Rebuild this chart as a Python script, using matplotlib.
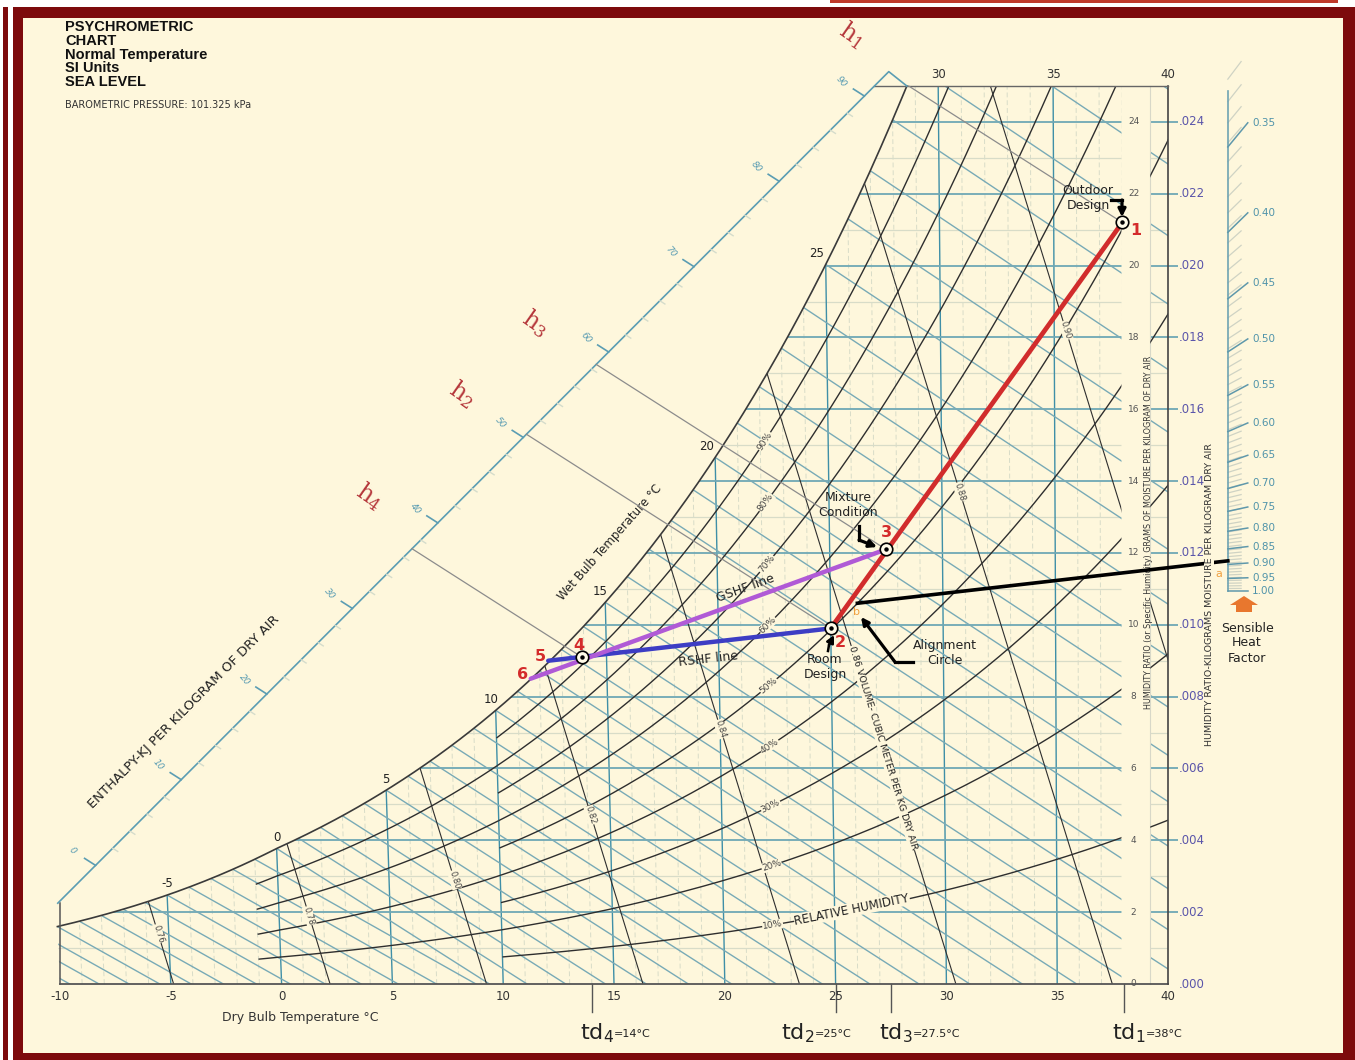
#!/usr/bin/env python3
"""Psychrometric chart (SI, sea level) with a cooling process drawn on it."""
import numpy as np
import matplotlib
matplotlib.use('Agg')
import matplotlib.pyplot as plt
from matplotlib.path import Path
from matplotlib.patches import PathPatch, Polygon, Rectangle

plt.rcParams['mathtext.default'] = 'regular'

# ---------- data ----------
P_ATM = 101.325
state_ids = ['1', '2', '3', '4', '5', '6']
state_tdb = [38.0, 25.0, 27.5, 13.9, 12.4, 11.6]
state_w = [0.0212, 0.0099, 0.0121, 0.0091, 0.0090, 0.0085]
h_marked = ['2', '3', '4']

rh_levels = [10, 20, 30, 40, 50, 60, 70, 80, 90]
rh_cold_levels = [20, 40, 60, 80]
vol_levels = [0.76, 0.78, 0.80, 0.82, 0.84, 0.86, 0.88, 0.90]
vol_label_w = [0.0014, 0.0019, 0.0029, 0.0047, 0.0071, 0.0094, 0.0137, 0.0182]
wb_sat_labels = [-5, 0, 5, 10, 15, 20, 25]
wb_lines = list(range(-14, 33))
h_ticks = [0, 10, 20, 30, 40, 50, 60, 70, 80, 90]
tdb_ticks = [-10, -5, 0, 5, 10, 15, 20, 25, 30, 35, 40]
tdb_top_ticks = [30, 35, 40]
w_ticks = [0.000, 0.002, 0.004, 0.006, 0.008, 0.010, 0.012,
           0.014, 0.016, 0.018, 0.020, 0.022, 0.024]
shf_ticks = [0.35, 0.40, 0.45, 0.50, 0.55, 0.60, 0.65,
             0.70, 0.75, 0.80, 0.85, 0.90, 0.95, 1.00]
td_names = ['4', '2', '3', '1']
td_values = [14, 25, 27.5, 38]

# ---------- layout ----------
W_PX, H_PX = 1355, 1060
X0, SX, Y0, SY = 60.0, 22.16, 984.0, 35920.0    # px of -10 C, px/C, px of W=0, px per unit W
T_END, T_STRIP, W_TOP = 37.9, 39.2, 0.025
LEAN = 1.48                                     # dry-bulb lines lean left as W grows
ENTH_A, ENTH_B = (-10.1, 0.00225), (27.4, 0.0254)
ALIGN = (26.2, 0.0106)
SHF_X, SHF_PIVOT = 42.7, (25.25, 0.01094)

TEAL = '#3f8fa7'
DIAG = '#78aab6'
LIGHT = '#d8dcc8'
INK = '#2e2e2e'
CREAM = '#fef7dc'
DARKRED = '#7d0a0c'
NARROW = ['Liberation Sans Narrow', 'DejaVu Sans']


# ---------- psychrometrics ----------
def pws(t):
    t = np.asarray(t, float)
    water = 0.61094 * np.exp(17.625 * t / (t + 243.04))
    ice = 0.61115 * np.exp(22.452 * t / (272.55 + t))
    return np.where(t >= 0, water, ice)


def w_rh(t, rh):
    p = rh * pws(t)
    return 0.621945 * p / (P_ATM - p)


def w_wb(t, twb):
    ws = w_rh(twb, 1.0)
    if twb >= 0:
        return ((2501 - 2.326 * twb) * ws - 1.006 * (t - twb)) / (2501 + 1.86 * t - 4.186 * twb)
    return ((2830 - 0.24 * twb) * ws - 1.006 * (t - twb)) / (2830 + 1.86 * t - 2.1 * twb)


def t_h(h, w):
    return (h - 2501 * w) / (1.006 + 1.86 * w)


def t_vol(v, w):
    return v * P_ATM / (0.287042 * (1 + 1.607858 * w)) - 273.15


def enthalpy(t, w):
    return 1.006 * t + w * (2501 + 1.86 * t)


def skew(t, w):
    return np.asarray(t) - LEAN * (40.0 - np.asarray(t)) * np.asarray(w)


def px2d(px, py):
    return (px - X0) / SX - 10.0, (Y0 - py) / SY


def ang(x1, y1, x2, y2):
    return np.degrees(np.arctan2((y2 - y1) * SY, (x2 - x1) * SX))


def enth_scale_w(tp):
    k = (ENTH_B[1] - ENTH_A[1]) / (ENTH_B[0] - ENTH_A[0])
    return ENTH_A[1] + k * (tp - ENTH_A[0])


def enth_on_scale(h):
    ws = np.linspace(0, 0.035, 20001)
    tp = skew(t_h(h, ws), ws)
    i = np.argmin(np.abs(ws - enth_scale_w(tp)))
    return tp[i], ws[i]


def shf_w(s):
    return SHF_PIVOT[1] + (SHF_X - SHF_PIVOT[0]) * 1.006 * (1 - s) / (2501 * s)


# ---------- figure ----------
fig = plt.figure(figsize=(W_PX / 100, H_PX / 100), dpi=100)
fig.patch.set_facecolor('white')
ax = fig.add_axes([0, 0, 1, 1])
ax.set_xlim(px2d(0, 0)[0], px2d(W_PX, 0)[0])
ax.set_ylim(px2d(0, H_PX)[1], px2d(0, 0)[1])
ax.axis('off')


def frect(x, y, w, h, **kw):
    fig.add_artist(Rectangle((x / W_PX, 1 - (y + h) / H_PX), w / W_PX, h / H_PX,
                             transform=fig.transFigure, lw=0, **kw))


frect(13, 7, W_PX - 13, H_PX - 7, color=DARKRED, zorder=-5)
frect(3, 7, 5, H_PX - 7, color=DARKRED, zorder=-5)
frect(23, 18, 1320, 1035, color=CREAM, zorder=-4)
frect(830, 0, 508, 3, color='#c0392b', zorder=-5)


def tx(px, py, s, **kw):
    return ax.text(*px2d(px, py), s, **kw)


# ---------- ruled area (clip path) ----------
tt = np.linspace(-10, 35, 4000)
t_top = np.interp(W_TOP, w_rh(tt, 1.0), tt)
ts = np.linspace(-10, t_top, 300)
wsat = w_rh(ts, 1.0)
sat_x = skew(ts, wsat)
region = [(-10, 0), (T_END, 0), (T_END, W_TOP)] + list(zip(sat_x[::-1], wsat[::-1]))
strip = [(T_STRIP, 0), (40, 0), (40, W_TOP), (T_STRIP, W_TOP)]


def codes(n):
    return [Path.MOVETO] + [Path.LINETO] * (n - 1) + [Path.CLOSEPOLY]


clip = PathPatch(Path(region + [region[0]] + strip + [strip[0]],
                      codes(len(region)) + codes(len(strip))),
                 transform=ax.transData, fc='none', ec='none')
ax.add_patch(clip)


def line(x, y, clipped=True, **kw):
    ln, = ax.plot(x, y, solid_capstyle='butt', **kw)
    if clipped:
        ln.set_clip_path(clip)
    return ln


wv = np.linspace(0, 0.027, 60)
# minor grid
for t in range(-9, 40):
    if t % 5:
        line(skew(t, wv), wv, color=LIGHT, lw=0.7, ls=(0, (5, 3)), zorder=1)
for w in np.arange(0.001, 0.025, 0.002):
    line([-11, 41], [w, w], color=LIGHT, lw=0.9, zorder=1)
# dry bulb
for t in range(-5, 40, 5):
    line(skew(t, wv), wv, color=TEAL, lw=1.0, zorder=2)
# humidity ratio
for w in w_ticks[1:]:
    line([-11, 41], [w, w], color='#6fa8b5', lw=1.3, zorder=2)
    line([40, 40.45], [w, w], clipped=False, color='#6fa8b5', lw=1.3, zorder=2)
# wet bulb (every 1 C)
for twb in wb_lines:
    tw = np.linspace(twb, 46, 300)
    ww = w_wb(tw, twb)
    m = ww > -0.002
    line(skew(tw[m], ww[m]), ww[m], color=DIAG, lw=1.0, zorder=2)
# relative humidity
for rh in rh_levels:
    tr = np.linspace(10, 42, 300)
    wr = w_rh(tr, rh / 100)
    line(skew(tr, wr), wr, color=INK, lw=1.0, zorder=3)
for rh in rh_cold_levels:
    tr = np.linspace(-1, 10, 80)
    wr = w_rh(tr, rh / 100)
    line(skew(tr, wr), wr, color=INK, lw=1.0, zorder=3)
# specific volume
for v in vol_levels:
    wl = np.linspace(0, 0.027, 80)
    line(skew(t_vol(v, wl), wl), wl, color=INK, lw=0.8, zorder=3)

# boundary lines
ax.plot(sat_x, wsat, color='#3a3a3a', lw=1.2, zorder=3)
ax.plot([-10, 40], [0, 0], color='#555555', lw=1.3, zorder=3)
ax.plot([-10, -10], [0, ENTH_A[1]], color='#555555', lw=1.1, zorder=3)
ax.plot([40, 40], [0, W_TOP], color='#444444', lw=1.2, zorder=3)
ax.plot([T_STRIP, T_STRIP], [0, W_TOP], color='#d8d8c8', lw=0.8, zorder=2)
t_cross = ENTH_A[0] + (W_TOP - ENTH_A[1]) * (ENTH_B[0] - ENTH_A[0]) / (ENTH_B[1] - ENTH_A[1])
ax.plot([t_cross, 40], [W_TOP, W_TOP], color='#666666', lw=1.0, zorder=3)
ax.plot([ENTH_A[0], ENTH_B[0], sat_x[-1]], [ENTH_A[1], ENTH_B[1], W_TOP],
        color='#5b9db3', lw=1.2, zorder=3)

# ---------- enthalpy scale ----------
def h_dir(h, xs, ys):
    x2 = skew(t_h(h, ys + 0.0005), ys + 0.0005)
    dx, dy = (x2 - xs) * SX, 0.0005 * SY
    n = np.hypot(dx, dy)
    return dx / n, dy / n          # unit vector, px, y up


for h in range(0, 92, 2):
    xs, ys = enth_on_scale(h)
    ux, uy = h_dir(h, xs, ys)
    if h in h_ticks:
        ax.plot([xs, xs + 13 * ux / SX], [ys, ys + 13 * uy / SY], color='#5b9db3', lw=1.2, zorder=3)
        ax.text(xs + 27 * ux / SX, ys + 27 * uy / SY, str(h), fontsize=6.5, style='italic',
                color='#5b9db3', rotation=-50, ha='center', va='center', zorder=4)
    else:
        ax.plot([xs, xs - 6 * ux / SX], [ys, ys - 6 * uy / SY], color='#d5dccb', lw=1.0, zorder=3)
tx(184, 712, 'ENTHALPY-KJ PER KILOGRAM OF DRY AIR', fontsize=9.5, rotation=45.3,
   ha='center', va='center', color='#222222')

# ---------- scale labels ----------
for t in tdb_ticks:
    ax.text(t, px2d(0, 997)[1], str(t), fontsize=8.5, ha='center', va='center', color='#333333')
for t in tdb_top_ticks:
    ax.text(skew(t, W_TOP), px2d(0, 75)[1], str(t), fontsize=8.5, ha='center', va='center',
            color='#333333')
tx(300, 1018, 'Dry Bulb Temperature °C', fontsize=9, ha='center', va='center',
   family=NARROW, color='#333333')
for w in w_ticks:
    ax.text(38.45, w, f'{w * 1000:.0f}', fontsize=6.5, ha='center', va='center', color='#555555')
    ax.text(40.5, w, f'{w:.3f}'[1:], fontsize=8.5, ha='left', va='center', color='#5a55aa')
tx(1148, 532, 'HUMIDITY RATIO (or Specific Humidity) GRAMS OF MOISTURE PER KILOGRAM OF DRY AIR',
   fontsize=5.8, rotation=90, ha='center', va='center', family=NARROW, color='#333333')
tx(1209, 594, 'HUMIDITY RATIO-KILOGRAMS MOISTURE PER KILOGRAM DRY AIR', fontsize=6.8,
   rotation=90, ha='center', va='center', family=NARROW, color='#333333', zorder=5,
   bbox=dict(fc=CREAM, ec='none', pad=0.6))

for t in wb_sat_labels:
    w = float(w_rh(t, 1.0))
    shift = 0 if t <= 5 else (5 if t <= 15 else 9)
    ax.annotate(str(t), (skew(t, w), w), xytext=(-shift / 1.389, 8), textcoords='offset points',
                fontsize=8.5, ha='center', va='center', color='#222222', zorder=4)
tx(610, 543, 'Wet Bulb Temperature °C', fontsize=8.5, rotation=48.5, ha='center',
   va='center', color='#222222')

for rh in rh_levels:
    t0 = 22.2
    w0 = float(w_rh(t0, rh / 100))
    a = ang(skew(t0 - 0.3, w_rh(t0 - 0.3, rh / 100)), w_rh(t0 - 0.3, rh / 100),
            skew(t0 + 0.3, w_rh(t0 + 0.3, rh / 100)), w_rh(t0 + 0.3, rh / 100))
    ax.text(skew(t0, w0), w0, f'{rh}%', fontsize=6.5, rotation=a, ha='center', va='center',
            rotation_mode='anchor', color='#444444', zorder=4,
            bbox=dict(fc=CREAM, ec='none', pad=0.3))
t1 = 26.5
tx_y = float(w_rh(23.2, 0.10))
tx_x = skew(23.2, tx_y)
ax.text(tx_x, tx_y, 'RELATIVE HUMIDITY', fontsize=8.5, ha='left', va='center',
        rotation=ang(tx_x, tx_y, skew(t1 + 3, w_rh(t1 + 3, 0.1)), w_rh(t1 + 3, 0.1)),
        rotation_mode='anchor', color='#222222', zorder=4,
        bbox=dict(fc=CREAM, ec='none', pad=0.3))

for v, wl in zip(vol_levels, vol_label_w):
    x = skew(t_vol(v, wl), wl)
    a = ang(skew(t_vol(v, wl + 0.001), wl + 0.001), wl + 0.001,
            skew(t_vol(v, wl - 0.001), wl - 0.001), wl - 0.001)
    s = f'{v:.2f}'
    if v == 0.86:
        ax.text(x, wl, s + ' VOLUME- CUBIC METER PER KG DRY AIR', fontsize=6.8, rotation=a,
                ha='left', va='center', rotation_mode='anchor', color='#222222', zorder=4,
                bbox=dict(fc=CREAM, ec='none', pad=0.3))
    else:
        ax.text(x, wl, s, fontsize=6, rotation=a, ha='center', va='center',
                rotation_mode='anchor', color='#444444', zorder=4,
                bbox=dict(fc=CREAM, ec='none', pad=0.3))

# ---------- title ----------
for s, py in zip(['PSYCHROMETRIC', 'CHART', 'Normal Temperature', 'SI Units', 'SEA LEVEL'],
                 [27, 41, 55, 68.5, 82]):
    tx(65, py, s, fontsize=10.5, fontweight='bold', family=['Liberation Sans', 'DejaVu Sans'],
       ha='left', va='center', color='#111111')
tx(65, 105, 'BAROMETRIC PRESSURE: 101.325 kPa', fontsize=7, family=NARROW, ha='left',
   va='center', color='#333333')

# ---------- SHF protractor ----------
ax.plot([SHF_X, SHF_X], [shf_w(1.0), shf_w(0.335)], color='#6fa3b3', lw=1.2, zorder=3)
for s in np.arange(0.33, 1.0, 0.01):
    m = 1.006 * (1 - s) / (2501 * s)
    ax.plot([SHF_X, SHF_X + 0.6], [shf_w(s), shf_w(s) + 0.6 * m], color='#cfd3c4', lw=0.9, zorder=2)
for s in shf_ticks:
    m = 1.006 * (1 - s) / (2501 * s)
    ax.plot([SHF_X, SHF_X + 0.9], [shf_w(s) - 0.9 * m, shf_w(s)], color='#5f98ab', lw=1.1, zorder=3)
    ax.text(SHF_X + 1.1, shf_w(s), f'{s:.2f}', fontsize=7.5, ha='left', va='center',
            color='#4f93aa', family=NARROW)
arrow_px = [(1244, 596), (1258, 605), (1252, 605), (1252, 612), (1236, 612), (1236, 605), (1230, 605)]
ax.add_patch(Polygon([px2d(*p) for p in arrow_px], closed=True, fc='#e8772e', ec='none', zorder=4))
tx(1247, 643, 'Sensible\nHeat\nFactor', fontsize=9, ha='center', va='center', color='#222222')
tx(1219, 574, 'a', fontsize=8, ha='center', va='center', color='#f0a040', zorder=6)

# ---------- process ----------
sx = skew(np.array(state_tdb), np.array(state_w))
sy = np.array(state_w)
idx = {k: i for i, k in enumerate(state_ids)}


def seg(a, b, **kw):
    ax.plot([sx[idx[a]], sx[idx[b]]], [sy[idx[a]], sy[idx[b]]], solid_capstyle='round', **kw)


# enthalpy lines from the states to the scale
for k in h_marked:
    i = idx[k]
    h = enthalpy(state_tdb[i], state_w[i])
    xe, ye = enth_on_scale(h)
    wl = np.linspace(state_w[i], ye, 40)
    ax.plot(skew(t_h(h, wl), wl), wl, color='#8c8c8c', lw=0.9, zorder=4)
h_off = {'2': (-64, -40), '3': (-61, -41), '4': (-42, -53)}
for k in h_marked:
    i = idx[k]
    xe, ye = enth_on_scale(enthalpy(state_tdb[i], state_w[i]))
    ax.annotate(f'h$_{k}$', (xe, ye), xytext=(h_off[k][0] / 1.389, -h_off[k][1] / 1.389),
                textcoords='offset points', fontsize=17, family='DejaVu Serif', rotation=-35,
                ha='center', va='center', color='#b5373b')
# h1: enthalpy line of the outdoor state up to the top of the chart
h1 = enthalpy(state_tdb[0], state_w[0])
wl = np.linspace(state_w[0], W_TOP, 40)
ax.plot(skew(t_h(h1, wl), wl), wl, color='#8c8c8c', lw=0.9, zorder=4)
tx(852, 35, 'h$_1$', fontsize=17, family='DejaVu Serif', rotation=-35, ha='center', va='center',
   color='#b5373b')

# alignment line (parallel to RSHF)
dxr, dyr = sx[idx['2']] - sx[idx['5']], sy[idx['2']] - sy[idx['5']]
ax_, ay_ = skew(*ALIGN), ALIGN[1]
ax.plot([ax_, SHF_X], [ay_, ay_ + (SHF_X - ax_) * dyr / dxr], color='black', lw=2.6, zorder=4.5)
ax.text(ax_ - 0.05, ay_ - 0.00025, 'b', fontsize=8, ha='center', va='center', color='#f0a040', zorder=6)

seg('2', '1', color='#d12c2c', lw=3.4, zorder=5)
seg('2', '5', color='#3d3dc4', lw=3.2, zorder=5)
seg('3', '6', color='#b05ad6', lw=3.2, zorder=5.1)
ax.plot(sx[:4], sy[:4], 'o', ms=9, mfc='#fffbe8', mec='black', mew=1.2, zorder=6)
ax.plot(sx[:4], sy[:4], 'o', ms=2.2, color='black', zorder=6.1)
lab_off = {'1': (13, 8), '2': (10, 14), '3': (0, -17), '4': (-3, -12), '5': (-8, -4), '6': (-8, -4)}
for k in state_ids:
    i = idx[k]
    ax.annotate(k, (sx[i], sy[i]), xytext=(lab_off[k][0] / 1.389, -lab_off[k][1] / 1.389),
                textcoords='offset points', fontsize=11.5, fontweight='bold', color='#d42b2b',
                ha='center', va='center', zorder=7)


def elbow(pts, lw=2.3):
    d = [px2d(*p) for p in pts]
    ax.plot([p[0] for p in d[:-1]], [p[1] for p in d[:-1]], color='black', lw=lw,
            solid_joinstyle='miter', zorder=7)
    ax.annotate('', d[-1], xytext=d[-2], arrowprops=dict(arrowstyle='-|>', color='black', lw=lw,
                mutation_scale=11, shrinkA=0, shrinkB=0), zorder=7)


tx(1088, 198, 'Outdoor\nDesign', fontsize=9, ha='center', va='center', color='#222222', zorder=7)
elbow([(1111, 200), (1122, 200), (1122, 217)])
tx(848, 505, 'Mixture\nCondition', fontsize=9, ha='center', va='center', color='#222222', zorder=7)
elbow([(859, 526), (859, 540), (877, 547)])
tx(825, 667, 'Room\nDesign', fontsize=9, ha='center', va='center', color='#222222', zorder=7)
elbow([(828, 651), (829, 645), (834, 635)], lw=1.8)
tx(945, 653, 'Alignment\nCircle', fontsize=9, ha='center', va='center', color='#222222', zorder=7)
elbow([(913, 662), (895, 662), (861, 617)])

ga = ang(sx[idx['6']], sy[idx['6']], sx[idx['3']], sy[idx['3']])
ra = ang(sx[idx['5']], sy[idx['5']], sx[idx['2']], sy[idx['2']])
tx(745, 588, 'GSHF line', fontsize=9, rotation=ga, ha='center', va='center', color='#222222', zorder=7)
tx(708, 659, 'RSHF line', fontsize=9, rotation=ra, ha='center', va='center', color='#222222', zorder=7)

# ---------- design temperatures ----------
for k, t in zip(td_names, td_values):
    ax.plot([t, t], [0, px2d(0, 1012)[1]], color='#555555', lw=1.0)
    px = X0 + (t + 10) * SX - (55 if k == '2' else 12)
    tx(px, 1039, f'td$_{k}$', fontsize=16, ha='left', va='baseline', color='#222222')
    tx(px + 34, 1037, f'={t:g}°C', fontsize=8, ha='left', va='baseline', color='#222222',
       family=NARROW)

fig.savefig('out.png', dpi=100, facecolor=fig.get_facecolor())
